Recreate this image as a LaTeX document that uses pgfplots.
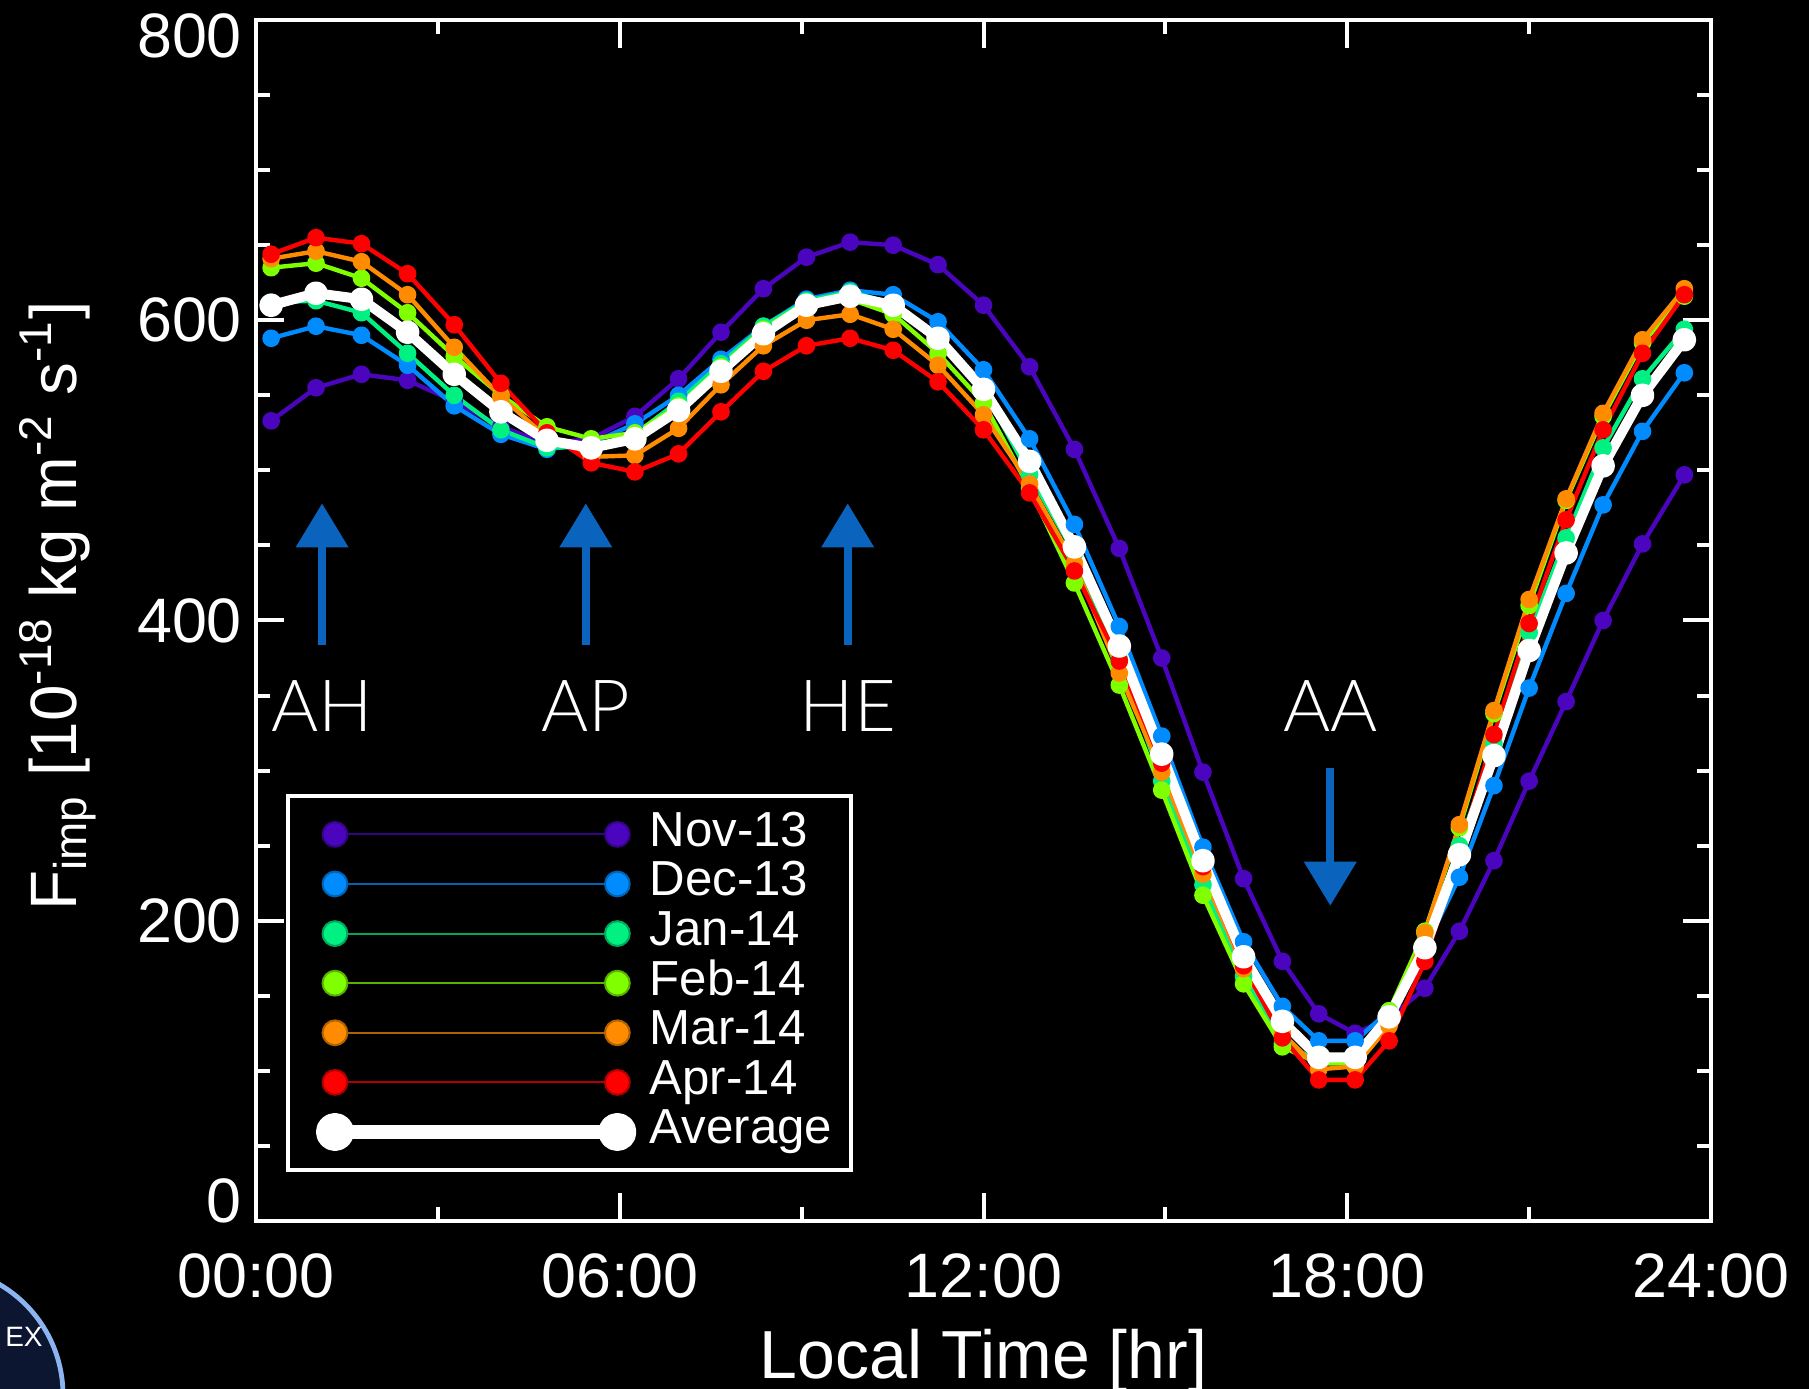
\documentclass[border=0pt]{standalone}
\usepackage{fontspec}
\setmainfont{Liberation Sans}
\newfontfamily\lightfont{Lato Light}
\usepackage{pgfplots}
\usepackage{pgfplotstable}
\pgfplotsset{compat=1.18}
\usetikzlibrary{backgrounds,arrows.meta}

\definecolor{cnov}{RGB}{75,5,190}
\definecolor{cdec}{RGB}{0,140,255}
\definecolor{cjan}{RGB}{0,240,130}
\definecolor{cfeb}{RGB}{128,255,0}
\definecolor{cmar}{RGB}{255,140,0}
\definecolor{capr}{RGB}{255,0,0}
\definecolor{carrow}{RGB}{10,100,190}
\definecolor{logoring}{RGB}{140,180,240}
\definecolor{logofill}{RGB}{12,22,48}

\pgfplotsset{
  leg/.style={legend image code/.code={\path (-5.9pt,0pt); \draw[##1, line width=0.5pt, draw=#1!70!black, mark size=3.1pt, mark options={draw=none, fill=#1}] plot coordinates {(0pt,0pt) (70.6pt,0pt)};}},
  thicklegend/.style={legend image code/.code={\path (-5.9pt,0pt); \draw[##1, line width=3.3pt, mark size=3.1pt] plot coordinates {(0pt,0pt) (70.6pt,0pt)};}},
  series/.style={#1, line width=1.1pt, line join=round, mark=*, mark size=1.65pt, mark options={draw=none, fill=#1}, leg=#1},
}

\pgfplotstableread{
x     nov dec jan feb mar apr avg
0.25  533 588 612 635 641 644 610
0.99  555 596 613 638 646 655 618
1.74  564 590 605 628 639 651 614
2.50  560 570 578 605 617 631 592
3.27  546 543 550 576 582 597 564
4.04  529 524 527 550 549 558 539
4.80  518 514 515 529 522 525 520
5.53  521 518 516 521 509 505 515
6.25  536 531 524 525 510 499 521
6.97  561 550 546 543 528 511 540
7.67  592 574 571 569 557 539 566
8.37  621 596 596 594 583 566 591
9.08  642 614 613 612 600 583 610
9.80  652 620 619 614 604 588 616
10.51 650 617 611 604 594 580 610
11.25 637 599 587 578 570 559 588
12.00 610 567 554 545 537 527 554
12.76 569 521 497 488 491 485 506
13.50 514 464 445 425 438 433 449
14.24 448 396 374 357 365 373 383
14.94 375 323 293 287 299 305 311
15.62 299 249 224 217 231 236 240
16.29 228 186 163 158 168 170 176
16.93 173 143 118 116 125 122 133
17.53 138 120 107 105 101 94  109
18.13 125 120 110 105 103 94  109
18.69 135 140 137 140 130 120 136
19.28 155 182 186 193 192 173 182
19.85 193 229 250 262 264 246 244
20.42 240 290 318 338 340 324 310
21.00 293 355 392 410 414 398 380
21.61 346 418 455 480 481 467 445
22.22 400 477 515 536 538 527 503
22.87 451 526 561 585 587 578 550
23.56 497 565 594 616 621 617 587
}\datatable

\begin{document}
\begin{tikzpicture}
\begin{axis}[
  name=ax, at={(0,0)}, anchor=south west,
  scale only axis, width=363.75pt, height=300.25pt,
  xmin=0, xmax=24, ymin=0, ymax=800,
  clip=false,
  axis line style={white, line width=1pt},
  xtick={0,6,12,18,24},
  xticklabels={00:00,06:00,12:00,18:00,24:00},
  minor xtick={3,9,15,21},
  ytick={0,200,400,600,800},
  yticklabels={\raisebox{5pt}[\height][\depth]{0},200,400,600,\raisebox{-4pt}[\height][\depth]{800}},
  minor ytick={50,100,150,250,300,350,450,500,550,650,700,750},
  xtick pos=both, ytick pos=both,
  xticklabel pos=lower, yticklabel pos=left,
  tick align=inside,
  major tick length=7pt, minor tick length=3.5pt,
  every tick/.style={white, line width=1pt},
  tick label style={white, font=\fontsize{15.7}{18}\selectfont},
  xticklabel style={yshift=-4.7pt},
  legend cell align=left,
  legend style={
    at={(0.0206,0.0408)}, anchor=south west,
    draw=white, line width=1pt, fill=black, text=white,
    font=\fontsize{12.3}{14}\selectfont,
    inner xsep=4.6pt, inner ysep=3.3pt,
    row sep=0pt,
    nodes={inner sep=0pt, text height=9.2pt, text depth=3.2pt},
    /tikz/every odd column/.append style={column sep=5pt},
  },
]
% annotations
\draw[carrow, line width=2pt, -{Triangle[width=12.7pt,length=11pt]}] (axis cs:1.09,384) -- (axis cs:1.09,478);
\draw[carrow, line width=2pt, -{Triangle[width=12.7pt,length=11pt]}] (axis cs:5.44,384) -- (axis cs:5.44,478);
\draw[carrow, line width=2pt, -{Triangle[width=12.7pt,length=11pt]}] (axis cs:9.76,384) -- (axis cs:9.76,478);
\draw[carrow, line width=2pt, -{Triangle[width=12.7pt,length=11pt]}] (axis cs:17.72,302) -- (axis cs:17.72,210);
\node[white, font=\lightfont\fontsize{18}{20}\selectfont] at (axis cs:1.09,343) {AH};
\node[white, font=\lightfont\fontsize{18}{20}\selectfont] at (axis cs:5.44,343) {AP};
\node[white, font=\lightfont\fontsize{18}{20}\selectfont] at (axis cs:9.76,343) {HE};
\node[white, font=\lightfont\fontsize{18}{20}\selectfont] at (axis cs:17.72,343) {AA};

\addplot[series=cnov] table[x=x,y=nov]{\datatable};
\addlegendentry{Nov-13}
\addplot[series=cdec] table[x=x,y=dec]{\datatable};
\addlegendentry{Dec-13}
\addplot[series=cjan] table[x=x,y=jan]{\datatable};
\addlegendentry{Jan-14}
\addplot[series=cfeb] table[x=x,y=feb]{\datatable};
\addlegendentry{Feb-14}
\addplot[series=cmar] table[x=x,y=mar]{\datatable};
\addlegendentry{Mar-14}
\addplot[series=capr] table[x=x,y=apr]{\datatable};
\addlegendentry{Apr-14}
\addplot[white, line width=2.5pt, line join=round, mark=*, mark size=1.7pt, mark options={draw=none, fill=white}, thicklegend] table[x=x,y=avg]{\datatable};
\addlegendentry{Average}
\end{axis}

\begin{scope}[on background layer]
\fill[black] ([shift={(-64pt,-42pt)}]ax.south west) rectangle ([shift={(24.5pt,5pt)}]ax.north east);
\end{scope}

% axis titles
\node[white, rotate=90, font=\fontsize{16.4}{19}\selectfont] at ([xshift=-49.5pt,yshift=3.6pt]ax.west)
  {F\textsubscript{imp} [10\textsuperscript{-18} kg m\textsuperscript{-2} s\textsuperscript{-1}]};
\node[white, anchor=base, font=\fontsize{17}{20}\selectfont] at ([yshift=-39.5pt]ax.south) {Local Time [hr]};

% logo (partial, clipped at page corner)
\begin{scope}
\clip ([shift={(-64pt,-42pt)}]ax.south west) rectangle ([shift={(24.5pt,5pt)}]ax.north east);
\fill[logofill, draw=logoring, line width=1.2pt] ([shift={(-80.25pt,-43.5pt)}]ax.south west) circle (32pt);
\node[white, font=\fontsize{7}{7}\selectfont] at ([shift={(-58pt,-29pt)}]ax.south west) {EX};
\end{scope}

\pgfresetboundingbox
\useasboundingbox ([shift={(-64pt,-42pt)}]ax.south west) rectangle ([shift={(24.5pt,5pt)}]ax.north east);
\end{tikzpicture}
\end{document}
